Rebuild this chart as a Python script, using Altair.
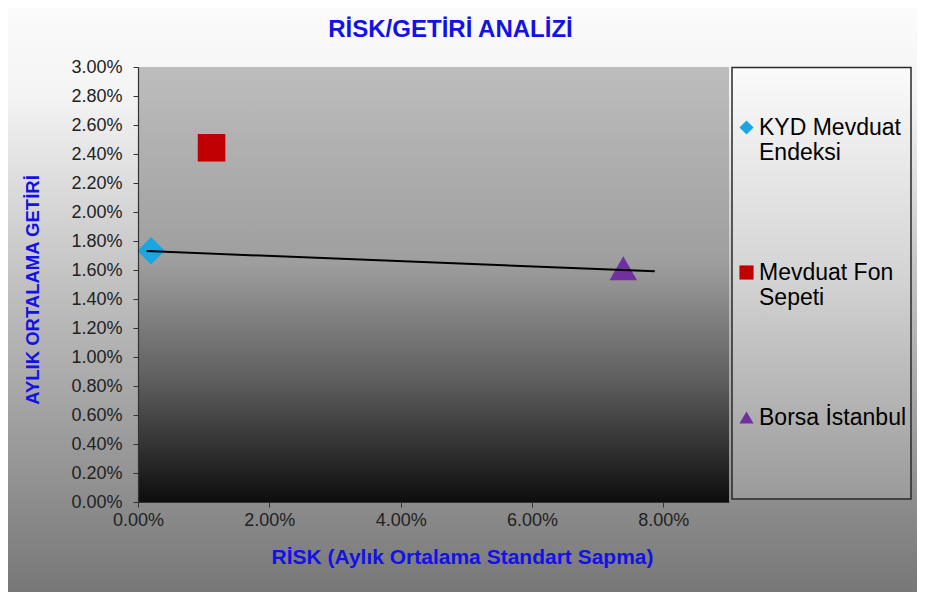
import altair as alt
import pandas as pd

# ---------------- data ----------------
series = ["KYD Mevduat Endeksi", "Mevduat Fon Sepeti", "Borsa İstanbul"]
risk = [0.0020, 0.0112, 0.0739]        # monthly std. deviation
ret = [0.01733, 0.02443, 0.01612]      # monthly average return
trend_x = [0.0013, 0.0787]
trend_y = [0.01731, 0.01591]
x_ticks = [0.0, 0.02, 0.04, 0.06, 0.08]
y_ticks = [0.0, 0.002, 0.004, 0.006, 0.008, 0.010, 0.012, 0.014, 0.016,
           0.018, 0.020, 0.022, 0.024, 0.026, 0.028, 0.030]
x_domain = [0.0, 0.09]
y_domain = [0.0, 0.03]
legend_lines = {
    "KYD Mevduat Endeksi": ["KYD Mevduat", "Endeksi"],
    "Mevduat Fon Sepeti": ["Mevduat Fon", "Sepeti"],
}

# ---------------- styles ----------------
shapes = ["diamond", "square", "triangle-up"]
colors = ["#1ba6e2", "#c00000", "#7030a0"]
BLUE = "#1212e6"
FONT = "Liberation Sans"
W, H = 591, 435
PAD = {"left": 130, "top": 59, "right": 188, "bottom": 90}

pts = pd.DataFrame({"series": series, "risk": risk, "ret": ret})
trend = pd.DataFrame({"risk": trend_x, "ret": trend_y})
one = pd.DataFrame({"a": [0]})
frame = pd.DataFrame({"risk": [x_domain[0]], "risk2": [x_domain[1]],
                      "ret": [y_domain[0]], "ret2": [y_domain[1]]})


def vgrad(stops):
    return alt.Gradient(
        gradient="linear", x1=0, x2=0, y1=0, y2=1,
        stops=[alt.GradientStop(color=c, offset=o) for o, c in stops],
    )


xscale = alt.Scale(domain=x_domain, nice=False, zero=False)
yscale = alt.Scale(domain=y_domain, nice=False, zero=False)

xaxis = alt.Axis(
    values=x_ticks, format=".2%", grid=False, zindex=1,
    labelFlush=False, labelOverlap=False,
    title="RİSK (Aylık Ortalama Standart Sapma)",
    titleX=324, titleY=55, titleBaseline="middle",
    titleColor=BLUE, titleFontSize=21, titleFontWeight="bold", titleFont=FONT,
    labelFont=FONT, labelFontSize=18, labelColor="#222222", labelPadding=4,
    tickColor="#333333", tickSize=5, domainColor="#333333", domainWidth=1.2,
)
yaxis = alt.Axis(
    values=y_ticks, format=".2%", grid=False, zindex=1,
    labelFlush=False, labelOverlap=False,
    title="AYLIK ORTALAMA GETİRİ",
    titleX=-106, titleY=H / 2 + 5, titleBaseline="middle", titleAngle=-90,
    titleColor=BLUE, titleFontSize=18.5, titleFontWeight="bold", titleFont=FONT,
    labelFont=FONT, labelFontSize=18, labelColor="#222222", labelPadding=11,
    tickColor="#333333", tickSize=5, domainColor="#333333", domainWidth=1.2,
)
X = alt.X("risk:Q", scale=xscale, axis=xaxis)
Y = alt.Y("ret:Q", scale=yscale, axis=yaxis)

# slide background (decoration)
page_bg = alt.Chart(one).mark_rect(
    fill=vgrad([(0, "#fbfbfb"), (0.15, "#f4f4f4"), (0.5, "#bdbdbd"), (1, "#777777")])
).encode(
    x=alt.value(-PAD["left"]), x2=alt.value(W + PAD["right"]),
    y=alt.value(-PAD["top"]), y2=alt.value(H + PAD["bottom"]),
)

# plot area background
plot_bg = alt.Chart(frame).mark_rect(
    fill=vgrad([(0, "#bdbdbd"), (0.45, "#9e9e9e"), (0.72, "#5e5e5e"), (1, "#0d0d0d")])
).encode(x=X, x2="risk2:Q", y=Y, y2="ret2:Q")

# legend box (decoration)
legend_box = alt.Chart(one).mark_rect(
    fill=vgrad([(0, "#fbfbfb"), (0.5, "#d2d2d2"), (1, "#9a9a9a")]),
    stroke="#2a2a2a", strokeWidth=1.5,
).encode(
    x=alt.value(W + 3), x2=alt.value(W + 182),
    y=alt.value(0.5), y2=alt.value(H - 3),
)

label_expr = " : ".join(
    [f"datum.label == '{k}' ? {v!r}" for k, v in legend_lines.items()]
) + " : datum.label"

points = alt.Chart(pts).mark_point(filled=True, opacity=1, size=760).encode(
    x=X, y=Y,
    color=alt.Color(
        "series:N", scale=alt.Scale(domain=series, range=colors),
        legend=alt.Legend(
            title=None, orient="none", legendX=W + 6, legendY=49,
            labelExpr=label_expr, labelFont=FONT, labelFontSize=23,
            labelColor="#000000", labelLimit=0,
            labelOffset=1, symbolSize=200, symbolStrokeWidth=0,
            rowPadding=96, padding=0, zindex=1,
        ),
    ),
    shape=alt.Shape("series:N", scale=alt.Scale(domain=series, range=shapes)),
)

line = alt.Chart(trend).mark_line(color="#000000", strokeWidth=2).encode(x=X, y=Y)

chart = alt.layer(page_bg, plot_bg, legend_box, points, line).properties(
    width=W, height=H,
    autosize=alt.AutoSizeParams(type="none"),
    padding=PAD,
    background="#ffffff",
    title=alt.TitleParams(
        "RİSK/GETİRİ ANALİZİ", anchor="middle", frame="group", dx=17,
        offset=-53, baseline="alphabetic", zindex=1,
        color=BLUE, fontSize=24, fontWeight="bold", font=FONT,
    ),
).configure_view(stroke=None)

chart.save("out.html", embed_options={"renderer": "svg", "actions": False})
